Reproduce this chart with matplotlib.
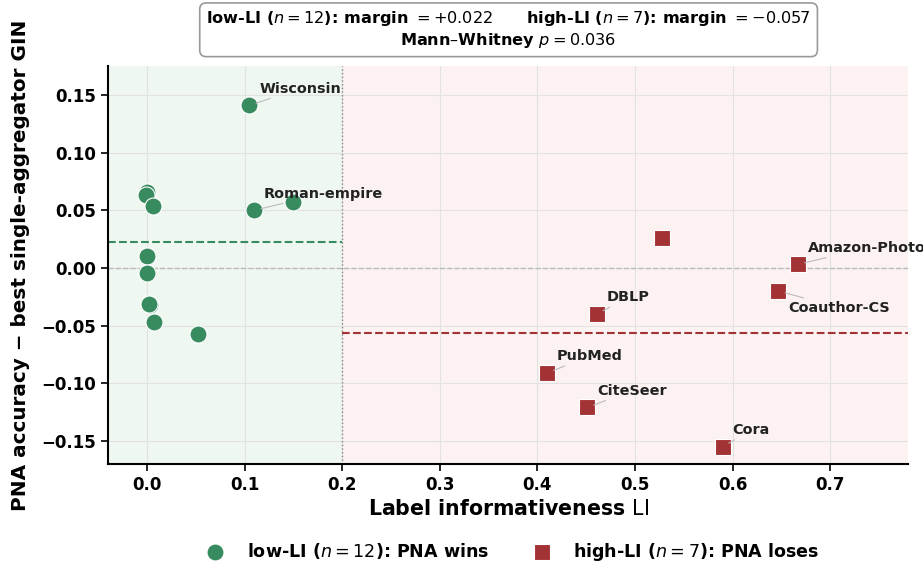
import matplotlib
matplotlib.use("Agg")
import matplotlib.pyplot as plt

# low-LI datasets (PNA wins)
low_li = [0.000, -0.001, 0.006, 0.000, 0.000, 0.003, 0.002, 0.007, 0.052, 0.105, 0.110, 0.150]
low_margin = [0.066, 0.063, 0.054, 0.010, -0.004, -0.032, -0.031, -0.047, -0.057, 0.141, 0.050, 0.057]
low_names = ["", "", "", "", "", "", "", "", "", "Wisconsin", "Roman-empire", ""]

# high-LI datasets (PNA loses)
high_li = [0.410, 0.451, 0.461, 0.528, 0.590, 0.647, 0.667]
high_margin = [-0.091, -0.121, -0.040, 0.026, -0.155, -0.020, 0.003]
high_names = ["PubMed", "CiteSeer", "DBLP", "", "Cora", "Coauthor-CS", "Amazon-Photo"]

threshold = 0.2
green = "#388b5f"
red = "#a23234"

low_mean = sum(low_margin) / len(low_margin)
high_mean = sum(high_margin) / len(high_margin)

fig = plt.figure(figsize=(9.23, 5.62), dpi=100)
ax = fig.add_axes([0.117, 0.1744, 0.867, 0.708])

xmin, xmax = -0.04, 0.78
ax.axvspan(xmin, threshold, color="#eff7f1", zorder=0)
ax.axvspan(threshold, xmax, color="#fcf2f2", zorder=0)
ax.axvline(threshold, color="#888888", ls=":", lw=1, zorder=1)
ax.axhline(0, color="#bbbbbb", ls="--", lw=1, zorder=1)
ax.plot([xmin, threshold], [low_mean, low_mean], color=green, ls="--", lw=1.5, zorder=2)
ax.plot([threshold, xmax], [high_mean, high_mean], color=red, ls="--", lw=1.5, zorder=2)

ax.scatter(low_li, low_margin, s=150, marker="o", color=green, edgecolor="white",
           linewidth=0.8, zorder=3, label=r"low-LI ($n=12$): PNA wins")
ax.scatter(high_li, high_margin, s=140, marker="s", color=red, edgecolor="white",
           linewidth=0.8, zorder=3, label=r"high-LI ($n=7$): PNA loses")

for x, y, name in zip(low_li + high_li, low_margin + high_margin, low_names + high_names):
    if not name:
        continue
    off = (7, -12) if name == "Coauthor-CS" else (7, 12)
    ax.annotate(name, (x, y), xytext=off, textcoords="offset points",
                ha="left", va="center", fontsize=10.4, fontweight="bold", color="#222222",
                arrowprops=dict(arrowstyle="-", color="#bbbbbb", lw=0.8, shrinkA=0, shrinkB=5))

ax.set_xlim(xmin, xmax)
ax.set_ylim(-0.17, 0.175)
ax.set_xticks([0.0, 0.1, 0.2, 0.3, 0.4, 0.5, 0.6, 0.7])
ax.set_yticks([-0.15, -0.10, -0.05, 0.00, 0.05, 0.10, 0.15])
ax.grid(True, color="#e2e2e2", lw=0.8, zorder=0)
ax.set_axisbelow(True)
for s in ["top", "right"]:
    ax.spines[s].set_visible(False)
for s in ["left", "bottom"]:
    ax.spines[s].set_linewidth(1.5)
ax.tick_params(labelsize=12, width=1.2, length=5)
for lab in ax.get_xticklabels() + ax.get_yticklabels():
    lab.set_fontweight("bold")

ax.set_xlabel(r"Label informativeness $\mathrm{LI}$", fontsize=14.8, fontweight="bold", labelpad=4)
ax.set_ylabel("PNA accuracy \u2212 best single-aggregator GIN", fontsize=14.4, fontweight="bold",
              labelpad=8)

fig.legend(loc="center", bbox_to_anchor=(0.551, 0.018), ncol=2, frameon=False,
           prop=dict(size=12.6, weight="bold"), columnspacing=2.0, handletextpad=0.8)

box_text = (r"low-LI ($n=12$): margin $=+0.022$      high-LI ($n=7$): margin $=-0.057$" + "\n"
            + r"Mann–Whitney $p=0.036$")
fig.text(0.551, 0.947, box_text, ha="center", va="center", fontsize=11.6, fontweight="bold",
         linespacing=1.2,
         bbox=dict(boxstyle="round,pad=0.4", facecolor="white", edgecolor="#999999", lw=1.2))

fig.savefig("out.png", dpi=100)
